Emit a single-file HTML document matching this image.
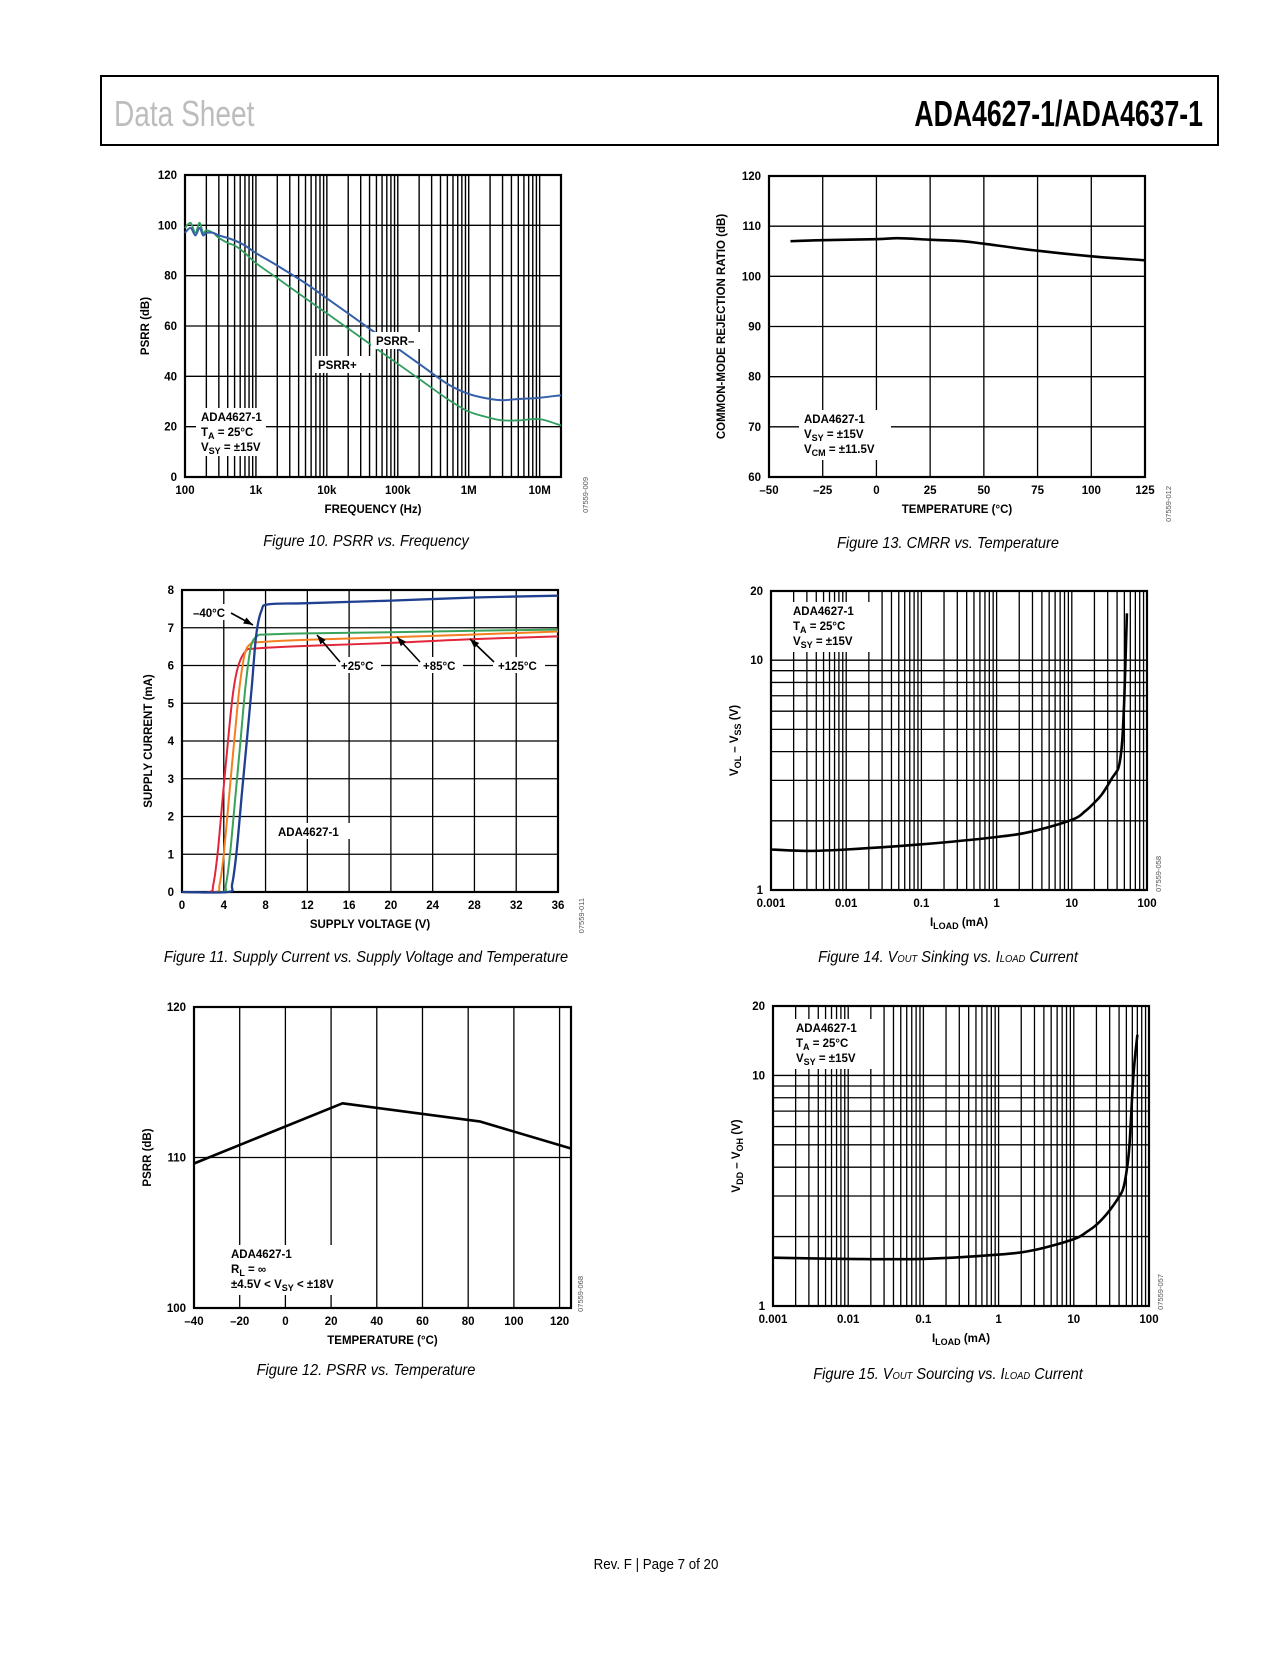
<!DOCTYPE html>
<html><head><meta charset="utf-8"><style>
html,body{margin:0;padding:0;background:#fff}
svg text{font-family:"Liberation Sans",sans-serif}
.t{font-size:11.5px;font-weight:bold}
.cap{font-size:15.5px;font-style:italic}
</style></head><body>
<svg id="page" xmlns="http://www.w3.org/2000/svg" width="1275" height="1650" viewBox="0 0 1275 1650">
<rect x="0" y="0" width="1275" height="1650" fill="#fff"/>
<rect x="101" y="76" width="1117" height="69" fill="none" stroke="#000" stroke-width="2"/>
<text x="114" y="126" font-size="36" fill="#bdbdbd" transform="translate(114 0) scale(0.78 1) translate(-114 0)">Data Sheet</text>
<text x="1203" y="126" font-size="36" font-weight="bold" text-anchor="end" fill="#000" transform="translate(1203 0) scale(0.74 1) translate(-1203 0)">ADA4627-1/ADA4637-1</text>
<text x="656" y="1569" font-size="14.5" text-anchor="middle" transform="translate(656 0) scale(0.92 1) translate(-656 0)">Rev. F | Page 7 of 20</text>
</svg>
<script>
// ---- Fig 10 data
const f10Freq=[100,120,140,160,180,200,250,300,400,500,700,1000,2000,5000,10000,20000,50000,100000,200000,500000,1000000,2000000,3000000,5000000,10000000,20000000];
const f10PsrrMinus=[97,99,96,99,96,97,97,96,95,94,92,89,84,77,71,65,57,51,45,37,33,31,30.5,31,31.5,32.5];
const f10PsrrPlus=[99,101,97,101,97,98,97,95,93,92,89,85,79,71,65,59,51,45,39,31,26,23.5,22.5,22.5,23,20.5];
const f10XTicks=["100","1k","10k","100k","1M","10M"];
const f10YTicks=["0","20","40","60","80","100","120"];
// ---- Fig 13 data
const f13Temp=[-40,-25,0,10,25,40,50,75,100,125];
const f13Cmrr=[107,107.2,107.4,107.6,107.3,107,106.5,105.1,104,103.2];
const f13XTicks=["–50","–25","0","25","50","75","100","125"];
const f13YTicks=["60","70","80","90","100","110","120"];
// ---- Fig 11 data
const f11VM40=[0,4.4,4.8,5.2,5.7,6.2,6.7,7.1,7.6,8.3,12,20,28,36];
const f11IM40=[0,0,0.2,1,2.5,4,5.5,6.8,7.45,7.62,7.65,7.72,7.8,7.85];
const f11V25=[0,3.8,4.2,4.6,5.1,5.6,6.1,6.6,7.2,8,12,20,28,36];
const f11I25=[0,0,0.2,1,2.5,4,5.5,6.5,6.78,6.82,6.85,6.88,6.92,6.95];
const f11V85=[0,3.2,3.6,4.0,4.5,5,5.5,6,6.6,7.5,12,20,28,36];
const f11I85=[0,0,0.2,1,2.5,4,5.4,6.3,6.58,6.62,6.68,6.75,6.82,6.9];
const f11V125=[0,2.6,3.0,3.4,3.9,4.4,4.9,5.4,6.1,7,12,20,28,36];
const f11I125=[0,0,0.2,1,2.5,4,5.3,6,6.38,6.45,6.52,6.6,6.7,6.77];
const f11XTicks=["0","4","8","12","16","20","24","28","32","36"];
const f11YTicks=["0","1","2","3","4","5","6","7","8"];
// ---- Fig 14 data
const f14Iload=[0.001,0.003,0.01,0.1,1,3,10,15,20,25,30,35,41,44,47,50,54];
const f14Vol=[1.5,1.48,1.5,1.58,1.7,1.8,2.02,2.2,2.4,2.6,2.85,3.1,3.35,3.7,4.5,7,16];
const f14XTicks=["0.001","0.01","0.1","1","10","100"];
const f14YTicks=["1","10","20"];
// ---- Fig 12 data
const f12Temp=[-40,25,85,125];
const f12Psrr=[109.6,113.6,112.4,110.6];
const f12XTicks=["–40","–20","0","20","40","60","80","100","120"];
const f12YTicks=["100","110","120"];
// ---- Fig 15 data
const f15Iload=[0.001,0.01,0.1,1,3,10,15,20,25,30,38,45,50,55,62,70];
const f15Voh=[1.62,1.6,1.6,1.67,1.75,1.95,2.1,2.25,2.42,2.6,2.9,3.2,3.8,5,10,15];
const f15XTicks=["0.001","0.01","0.1","1","10","100"];
const f15YTicks=["1","10","20"];

const NS="http://www.w3.org/2000/svg";
const svg=document.getElementById('page');
function el(tag,attrs,parent){const e=document.createElementNS(NS,tag);for(const k in attrs)e.setAttribute(k,attrs[k]);(parent||svg).appendChild(e);return e;}
function lin(d0,d1,r0,r1){return v=>r0+(v-d0)/(d1-d0)*(r1-r0);}
function lg(d0,d1,r0,r1){return v=>r0+(Math.log10(v)-Math.log10(d0))/(Math.log10(d1)-Math.log10(d0))*(r1-r0);}
function parseTick(s){s=s.replace('–','-');let m=1;if(s.endsWith('k')){m=1e3;s=s.slice(0,-1);}else if(s.endsWith('M')){m=1e6;s=s.slice(0,-1);}return parseFloat(s)*m;}
function logGrid(a,b){const out=[];for(let d=Math.floor(Math.log10(a));d<=Math.ceil(Math.log10(b));d++){for(let m=1;m<10;m++){const v=m*Math.pow(10,d);if(v>=a*0.999&&v<=b*1.001)out.push(v);}}return out;}
function line(g,x1,y1,x2,y2,w){return el('line',{x1,y1,x2,y2,stroke:'#000','stroke-width':w||1.2},g);}
function path(g,xs,ys,sx,sy,color,w,name,smooth){
  const P=xs.map((x,i)=>[sx(x),sy(ys[i])]);
  let d='M'+P[0][0].toFixed(1)+' '+P[0][1].toFixed(1);
  for(let i=1;i<P.length;i++){
    if(smooth){const p0=P[Math.max(0,i-2)],p1=P[i-1],p2=P[i],p3=P[Math.min(P.length-1,i+1)];
      const c1=[p1[0]+(p2[0]-p0[0])/6,p1[1]+(p2[1]-p0[1])/6],c2=[p2[0]-(p3[0]-p1[0])/6,p2[1]-(p3[1]-p1[1])/6];
      d+='C'+c1.map(v=>v.toFixed(1)).join(' ')+' '+c2.map(v=>v.toFixed(1)).join(' ')+' '+p2[0].toFixed(1)+' '+p2[1].toFixed(1);}
    else d+='L'+P[i][0].toFixed(1)+' '+P[i][1].toFixed(1);}
  const p=el('path',{d,fill:'none',stroke:color,'stroke-width':w,'stroke-linejoin':'round'},g);
  
  
  return p;}
function txt(g,x,y,s,cls,anchor){const t=el('text',{x,y,'class':cls||'t','text-anchor':anchor||'start'},g);t.textContent=s;return t;}
function infoBox(g,x,y,w,h,lines,name){const b=el('g',{},g);


el('rect',{x:x-5,y:y-13,width:w,height:h,fill:'#fff'},b);
lines.forEach((l,i)=>{const t=el('text',{x,y:y+i*15,'class':'t'},b);t.innerHTML=l;});}

function chart(cfg){
  const g=el('g',{});
  
  
  const {L,T,R,B}=cfg;
  const sx=cfg.xlog?lg(cfg.x0,cfg.x1,L,R):lin(cfg.x0,cfg.x1,L,R);
  const sy=cfg.ylog?lg(cfg.y0,cfg.y1,B,T):lin(cfg.y0,cfg.y1,B,T);
  const grid=el('g',{},g);
  
  
  cfg.xgrid.forEach(v=>{const x=sx(v);line(grid,x,T,x,B,cfg.xgw||1.3);});
  cfg.ygrid.forEach(v=>{const y=sy(v);line(grid,L,y,R,y,cfg.ygw||1.3);});
  const fr=el('rect',{x:L,y:T,width:R-L,height:B-T,fill:'none',stroke:'#000','stroke-width':2.2},g);
  
  
  const xt=el('g',{},g);
  
  
  cfg.xticks.forEach(s=>{txt(xt,sx(parseTick(s)),B+17,s,'t','middle');});
  const yt=el('g',{},g);
  
  
  cfg.yticks.forEach(s=>{txt(yt,L-8,sy(parseTick(s))+4,s,'t','end');});
  const xtt=el('text',{x:(L+R)/2,y:B+36,'class':'t','text-anchor':'middle'},g);
  xtt.innerHTML=cfg.xtitle;
  
  
  const ytt=el('text',{x:0,y:0,'class':'t','text-anchor':'middle',transform:`translate(${L-cfg.ytoff} ${(T+B)/2}) rotate(-90)`},g);
  ytt.innerHTML=cfg.ytitle;
  
  
  const code=el('text',{x:0,y:0,'font-size':'7.5',fill:'#555','text-anchor':'end',transform:`translate(${R+cfg.codeoff} ${B+cfg.codey}) rotate(-90)`},g);
  code.textContent=cfg.code;
  
  
  const cap=el('text',{x:cfg.capx,y:cfg.capy,'class':'cap','text-anchor':'middle',transform:`translate(${cfg.capx} 0) scale(0.94 1) translate(${-cfg.capx} 0)`},g);
  cap.innerHTML=cfg.caption;
  
  
  return {g,sx,sy};
}
const sub=s=>`<tspan font-size="9" dy="3">${s}</tspan><tspan dy="-3"> </tspan>`;

// Fig 10
(function(){
  const c=chart({name:'psrr-vs-frequency-chart',L:185,T:175,R:561,B:477,xlog:true,x0:100,x1:20e6,y0:0,y1:120,
    xgrid:logGrid(100,20e6),ygrid:[20,40,60,80,100],xgw:1.4,xticks:f10XTicks,yticks:f10YTicks,
    xtitle:'FREQUENCY (Hz)',ytitle:'PSRR (dB)',ytoff:36,code:'07559-009',codeoff:27,codey:0,
    caption:'Figure 10. PSRR vs. Frequency',capx:366,capy:546});
  path(c.g,f10Freq,f10PsrrPlus,c.sx,c.sy,'#2f9e5e',1.8,'psrr-plus-line',true);
  path(c.g,f10Freq,f10PsrrMinus,c.sx,c.sy,'#3560a8',2,'psrr-minus-line',true);
  infoBox(c.g,376,345,60,17,['PSRR–'],'psrr-minus-label');
  infoBox(c.g,318,369,60,17,['PSRR+'],'psrr-plus-label');
  infoBox(c.g,201,421,70,48,['ADA4627-1','T'+sub('A')+'= 25°C','V'+sub('SY')+'= ±15V'],'conditions-box');
})();
// Fig 13
(function(){
  const c=chart({name:'cmrr-vs-temperature-chart',L:769,T:176,R:1145,B:477,x0:-50,x1:125,y0:60,y1:120,
    xgrid:[-25,0,25,50,75,100],ygrid:[70,80,90,100,110],xticks:f13XTicks,yticks:f13YTicks,
    xtitle:'TEMPERATURE (°C)',ytitle:'COMMON-MODE REJECTION RATIO (dB)',ytoff:44,code:'07559-012',codeoff:26,codey:9,
    caption:'Figure 13. CMRR vs. Temperature',capx:948,capy:548});
  path(c.g,f13Temp,f13Cmrr,c.sx,c.sy,'#000',2.6,'cmrr-line',true);
  infoBox(c.g,804,423,92,50,['ADA4627-1','V'+sub('SY')+'= ±15V','V'+sub('CM')+'= ±11.5V'],'conditions-box');
})();
// Fig 11
(function(){
  const c=chart({name:'supply-current-vs-voltage-chart',L:182,T:590,R:558,B:892,x0:0,x1:36,y0:0,y1:8,
    xgrid:[4,8,12,16,20,24,28,32],ygrid:[1,2,3,4,5,6,7],xticks:f11XTicks,yticks:f11YTicks,
    xtitle:'SUPPLY VOLTAGE (V)',ytitle:'SUPPLY CURRENT (mA)',ytoff:30,code:'07559-011',codeoff:26,codey:6,
    caption:'Figure 11. Supply Current vs. Supply Voltage and Temperature',capx:366,capy:962});
  path(c.g,f11V125,f11I125,c.sx,c.sy,'#e2263a',2,'line-125c',true);
  path(c.g,f11V85,f11I85,c.sx,c.sy,'#f47f20',2,'line-85c',true);
  path(c.g,f11V25,f11I25,c.sx,c.sy,'#3aa35a',2,'line-25c',true);
  path(c.g,f11VM40,f11IM40,c.sx,c.sy,'#1f3f91',2.3,'line-minus40c',true);
  infoBox(c.g,193,617,44,16,['–40°C'],'label-minus40c');
  infoBox(c.g,341,670,45,16,['+25°C'],'label-25c');
  infoBox(c.g,423,670,45,16,['+85°C'],'label-85c');
  infoBox(c.g,498,670,52,16,['+125°C'],'label-125c');
  infoBox(c.g,278,836,80,16,['ADA4627-1'],'part-label');
  const arrows=[[231,613,253,625],[340,662,317,635],[420,662,397,637],[494,662,470,639]];
  arrows.forEach(a=>{line(c.g,a[0],a[1],a[2],a[3],1.6);const ang=Math.atan2(a[3]-a[1],a[2]-a[0]);const hx=a[2],hy=a[3];
    const p1=[hx-10*Math.cos(ang-0.35),hy-10*Math.sin(ang-0.35)],p2=[hx-10*Math.cos(ang+0.35),hy-10*Math.sin(ang+0.35)];
    el('polygon',{points:`${hx},${hy} ${p1} ${p2}`,fill:'#000'},c.g);});
})();
// Fig 14
(function(){
  const c=chart({name:'vout-sinking-chart',L:771,T:591,R:1147,B:890,xlog:true,x0:0.001,x1:100,ylog:true,y0:1,y1:20,
    xgrid:logGrid(0.001,100),ygrid:logGrid(1,20),xticks:f14XTicks,yticks:f14YTicks,
    xtitle:'I'+sub('LOAD')+'(mA)',ytitle:'V'+sub('OL')+'– V'+sub('SS')+'(V)',ytoff:33,code:'07559-058',codeoff:14,codey:-34,
    caption:'Figure 14. V<tspan font-size="10">OUT</tspan> Sinking vs. I<tspan font-size="10">LOAD</tspan> Current',capx:948,capy:962});
  path(c.g,f14Iload,f14Vol,c.sx,c.sy,'#000',2.6,'vol-line',true);
  infoBox(c.g,793,615,90,50,['ADA4627-1','T'+sub('A')+'= 25°C','V'+sub('SY')+'= ±15V'],'conditions-box');
})();
// Fig 12
(function(){
  const c=chart({name:'psrr-vs-temperature-chart',L:194,T:1007,R:571,B:1308,x0:-40,x1:125,y0:100,y1:120,
    xgrid:[-20,0,20,40,60,80,100,120],ygrid:[110],xticks:f12XTicks,yticks:f12YTicks,
    xtitle:'TEMPERATURE (°C)',ytitle:'PSRR (dB)',ytoff:43,code:'07559-068',codeoff:12,codey:-32,
    caption:'Figure 12. PSRR vs. Temperature',capx:366,capy:1375});
  path(c.g,f12Temp,f12Psrr,c.sx,c.sy,'#000',2.6,'psrr-line',false);
  infoBox(c.g,231,1258,120,50,['ADA4627-1','R'+sub('L')+'= ∞','±4.5V &lt; V'+sub('SY')+'&lt; ±18V'],'conditions-box');
})();
// Fig 15
(function(){
  const c=chart({name:'vout-sourcing-chart',L:773,T:1006,R:1149,B:1306,xlog:true,x0:0.001,x1:100,ylog:true,y0:1,y1:20,
    xgrid:logGrid(0.001,100),ygrid:logGrid(1,20),xticks:f15XTicks,yticks:f15YTicks,
    xtitle:'I'+sub('LOAD')+'(mA)',ytitle:'V'+sub('DD')+'– V'+sub('OH')+'(V)',ytoff:33,code:'07559-057',codeoff:14,codey:-32,
    caption:'Figure 15. V<tspan font-size="10">OUT</tspan> Sourcing vs. I<tspan font-size="10">LOAD</tspan> Current',capx:948,capy:1379});
  path(c.g,f15Iload,f15Voh,c.sx,c.sy,'#000',2.6,'voh-line',true);
  infoBox(c.g,796,1032,90,50,['ADA4627-1','T'+sub('A')+'= 25°C','V'+sub('SY')+'= ±15V'],'conditions-box');
})();
</script>
</body></html>
